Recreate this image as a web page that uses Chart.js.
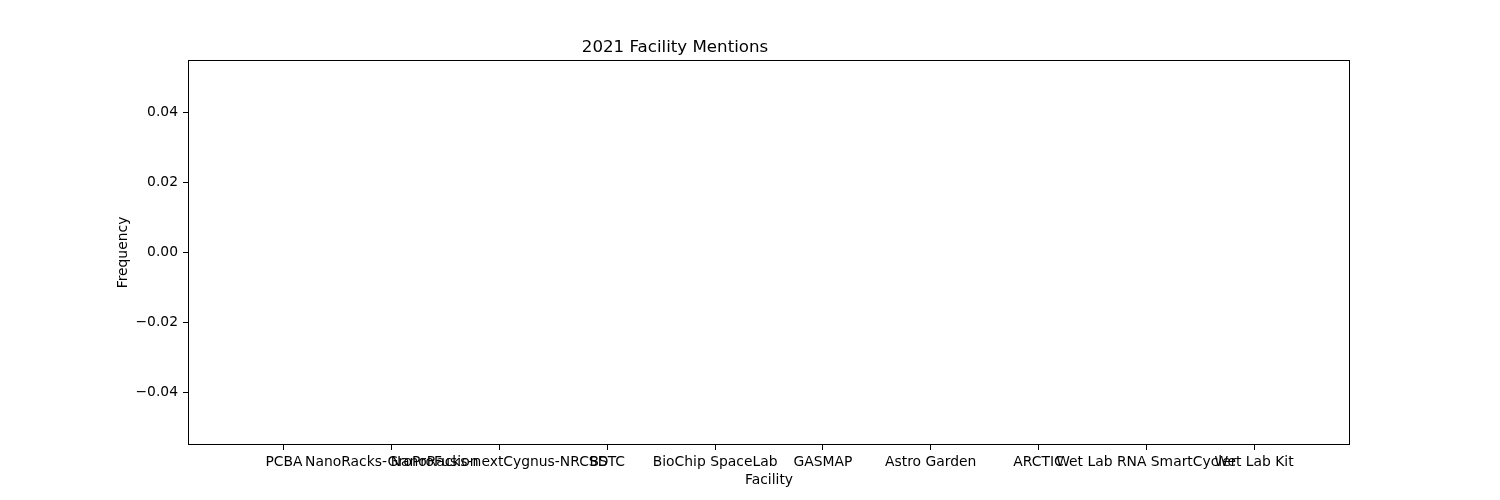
<!DOCTYPE html>
<html>
<head>
<meta charset="utf-8">
<script src="https://cdn.jsdelivr.net/npm/chart.js@4"></script>
<style>
  html, body { margin: 0; padding: 0; background: #ffffff; }
  canvas { display: block; }
</style>
</head>
<body>
<canvas id="c" width="1500" height="500"></canvas>
<script>
const categories = [
  "PCBA",
  "NanoRacks-GroProFusion",
  "NanoRacks-nextCygnus-NRCSD",
  "BSTC",
  "BioChip SpaceLab",
  "GASMAP",
  "Astro Garden",
  "ARCTIC",
  "Wet Lab RNA SmartCycler",
  "Wet Lab Kit"
];
const frequency = [0, 0, 0, 0, 0, 0, 0, 0, 0, 0];
const yTicks = [-0.04, -0.02, 0.00, 0.02, 0.04];

const FONT = "'DejaVu Sans', sans-serif";

const frame = {
  id: 'frame',
  afterDraw(chart) {
    const {ctx, chartArea: a} = chart;
    ctx.save();
    ctx.strokeStyle = '#000';
    ctx.lineWidth = 1;
    ctx.strokeRect(Math.round(a.left) + 0.5, Math.round(a.top) + 0.5,
                   Math.round(a.right - a.left) - 1, Math.round(a.bottom - a.top) - 1);
    ctx.restore();
  }
};

new Chart(document.getElementById('c'), {
  type: 'bar',
  data: {
    datasets: [{
      data: frequency.map((v, i) => ({x: i, y: v})),
      backgroundColor: '#1f77b4',
      borderWidth: 0,
      barPercentage: 0.8,
      categoryPercentage: 1.0
    }]
  },
  options: {
    responsive: false,
    animation: false,
    devicePixelRatio: 1,
    layout: { padding: { left: 0, right: 150, top: 0, bottom: 0 } },
    plugins: {
      legend: { display: false },
      tooltip: { enabled: false },
      title: {
        display: true,
        text: '2021 Facility Mentions',
        color: '#000',
        font: { family: FONT, size: 16.67, weight: 'normal', lineHeight: 1.2 },
        padding: { top: 38, bottom: 2 }
      }
    },
    scales: {
      x: {
        type: 'linear',
        offset: false,
        min: -0.89,
        max: 9.89,
        afterBuildTicks: (axis) => { axis.ticks = categories.map((_, i) => ({value: i})); },
        afterFit: (scale) => { scale.height = 55; },
        ticks: {
          autoSkip: false,
          maxRotation: 0,
          minRotation: 0,
          color: '#000',
          padding: 4,
          font: { family: FONT, size: 13.89 },
          callback: (v) => categories[v]
        },
        grid: { offset: false, drawOnChartArea: false, drawTicks: true, tickLength: 5, tickColor: '#000', lineWidth: 1 },
        border: { display: false },
        title: {
          display: true,
          text: 'Facility',
          color: '#000',
          font: { family: FONT, size: 13.89, lineHeight: 1.2 },
          padding: { top: 0, bottom: 11.7 }
        }
      },
      y: {
        type: 'linear',
        min: -0.055,
        max: 0.055,
        afterBuildTicks: (axis) => { axis.ticks = yTicks.map(v => ({value: v})); },
        afterFit: (scale) => { scale.width = 188; },
        ticks: {
          color: '#000',
          padding: 5,
          font: { family: FONT, size: 13.89 },
          callback: (v) => v.toFixed(2).replace('-', '\u2212')
        },
        grid: { drawOnChartArea: false, drawTicks: true, tickLength: 5, tickColor: '#000', lineWidth: 1 },
        border: { display: false },
        title: {
          display: true,
          text: 'Frequency',
          color: '#000',
          font: { family: FONT, size: 13.89, lineHeight: 1.2 },
          padding: { top: 114.7, bottom: 0 }
        }
      }
    }
  },
  plugins: [frame]
});
</script>
</body>
</html>
